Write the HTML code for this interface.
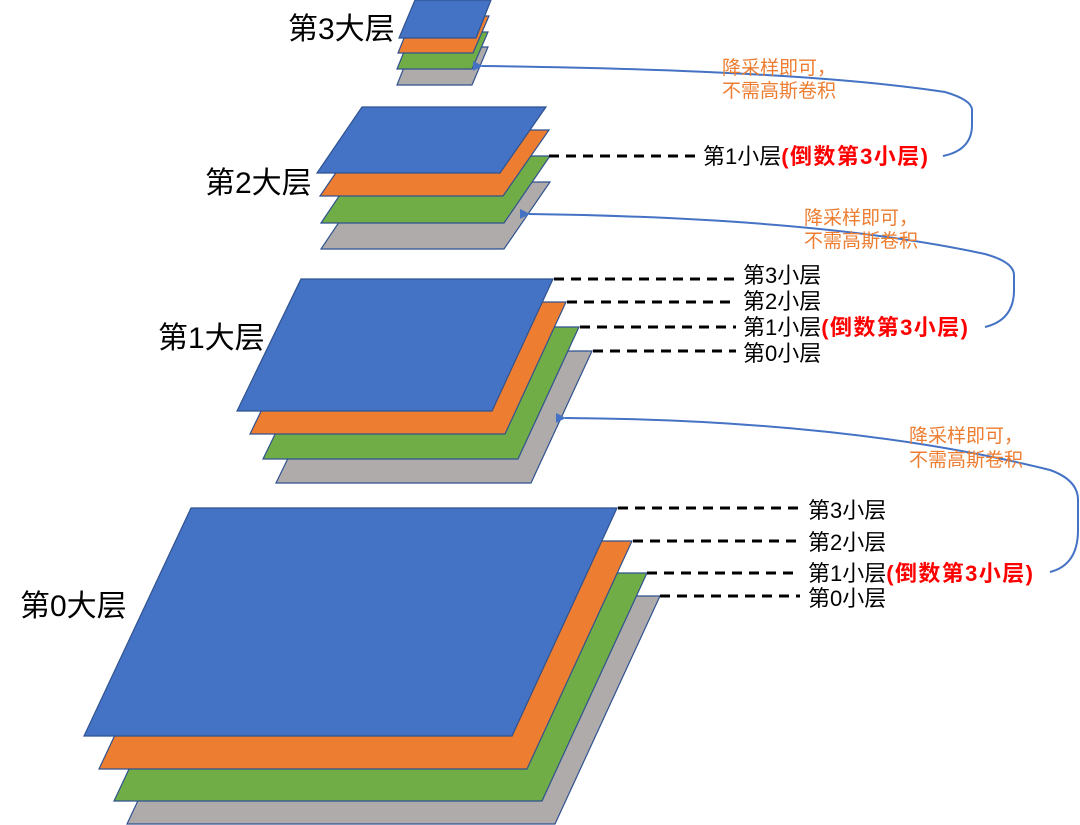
<!DOCTYPE html>
<html><head><meta charset="utf-8"><style>
html,body{margin:0;padding:0;background:#fff;}
svg{display:block;}
text{font-family:"Liberation Sans","Noto Sans CJK SC",sans-serif;}
</style></head><body>
<svg width="1080" height="825" viewBox="0 0 1080 825" xmlns="http://www.w3.org/2000/svg">
<defs>
<marker id="ah" markerWidth="10" markerHeight="10" refX="1" refY="5" orient="auto" markerUnits="userSpaceOnUse">
<path d="M10,0 L0,5 L10,10 Z" fill="#4472c4"/>
</marker>
</defs>
<g stroke="#2f528f" stroke-width="1.2">
<polygon points="234,596 660,596 555,824 127,824" fill="#afabab"/>
<polygon points="221,573 647,573 542,801 114,801" fill="#70ad47"/>
<polygon points="206,541 632,541 527,769 99,769" fill="#ed7d31"/>
<polygon points="191,508 617,508 512,736 84,736" fill="#4472c4"/>
<polygon points="340,351 592,351 531,483 276,483" fill="#afabab"/>
<polygon points="327,327 579,327 518,459 263,459" fill="#70ad47"/>
<polygon points="314,302 566,302 505,434 250,434" fill="#ed7d31"/>
<polygon points="301,279 553,279 492,411 237,411" fill="#4472c4"/>
<polygon points="366,182 550,182 504,249 321,249" fill="#afabab"/>
<polygon points="366,156 550,156 504,223 321,223" fill="#70ad47"/>
<polygon points="365,130 549,130 503,196 320,196" fill="#ed7d31"/>
<polygon points="362,107 546,107 500,173 317,173" fill="#4472c4"/>
<polygon points="412,47 488,47 472,85 397,85" fill="#afabab"/>
<polygon points="412,32 488,32 472,69 397,69" fill="#70ad47"/>
<polygon points="413,16 489,16 473,53 398,53" fill="#ed7d31"/>
<polygon points="415,0 491,0 476,38 399,38" fill="#4472c4"/>
</g>
<g stroke="#000" stroke-width="3" stroke-dasharray="10,7" fill="none">
<line x1="618" y1="508" x2="800" y2="508"/>
<line x1="633" y1="541" x2="800" y2="541"/>
<line x1="647" y1="573" x2="800" y2="573"/>
<line x1="660" y1="596" x2="800" y2="596"/>
<line x1="554" y1="279" x2="736" y2="279"/>
<line x1="567" y1="302" x2="736" y2="302"/>
<line x1="580" y1="327" x2="736" y2="327"/>
<line x1="593" y1="351" x2="736" y2="351"/>
<line x1="549" y1="156" x2="702" y2="156"/>
</g>
<g stroke="#4472c4" stroke-width="2" fill="none">
<path d="M1050,572 Q1078,565 1078,530 L1078,500 Q1078,480 1050,470 Q850,420 565,418" marker-end="url(#ah)"/>
<path d="M985,327 Q1014,320 1014,290 L1014,275 Q1014,262 985,254 Q820,218 529,214" marker-end="url(#ah)"/>
<path d="M943,156 Q972,150 972,125 L972,110 Q972,100 945,92 Q800,70 482,66" marker-end="url(#ah)"/>
</g>
<g font-size="30" fill="#000">
<text x="288" y="39">第3大层</text>
<text x="205" y="193">第2大层</text>
<text x="158" y="348">第1大层</text>
<text x="20" y="616">第0大层</text>
</g>
<g font-size="22" fill="#000">
<text x="808" y="518">第3小层</text>
<text x="808" y="550">第2小层</text>
<text x="808" y="581">第1小层<tspan fill="#ff0000" font-weight="bold" letter-spacing="1.4">(倒数第3小层)</tspan></text>
<text x="808" y="606">第0小层</text>
<text x="743" y="283">第3小层</text>
<text x="743" y="309">第2小层</text>
<text x="743" y="335">第1小层<tspan fill="#ff0000" font-weight="bold" letter-spacing="1.4">(倒数第3小层)</tspan></text>
<text x="743" y="361">第0小层</text>
<text x="703" y="164">第1小层<tspan fill="#ff0000" font-weight="bold" letter-spacing="1.4">(倒数第3小层)</tspan></text>
</g>
<g font-size="19" fill="#ed7d31">
<text x="722" y="74">降采样即可，</text>
<text x="722" y="97">不需高斯卷积</text>
<text x="804" y="224">降采样即可，</text>
<text x="804" y="247">不需高斯卷积</text>
<text x="909" y="442">降采样即可，</text>
<text x="909" y="466">不需高斯卷积</text>
</g>
</svg>
</body></html>
